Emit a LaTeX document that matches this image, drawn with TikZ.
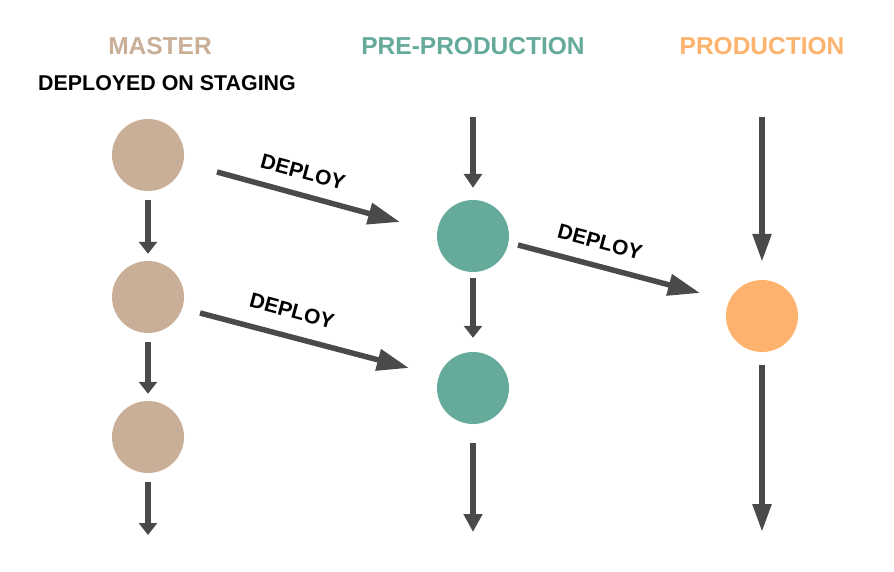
\documentclass[tikz,border=0pt]{standalone}
\usepackage{fontspec}
\setmainfont{Liberation Sans}
\usetikzlibrary{arrows.meta}
\definecolor{tan}{HTML}{C9AF97}
\definecolor{teal}{HTML}{66AA9B}
\definecolor{orng}{HTML}{FDB36D}
\definecolor{arr}{HTML}{4A4A4A}
\begin{document}
\begin{tikzpicture}[x=1pt,y=-1pt,
  dot/.style={circle,minimum size=72pt,inner sep=0pt},
  title/.style={font=\bfseries\fontsize{24.5}{28}\selectfont,inner sep=0pt},
  lbl/.style={font=\bfseries\fontsize{21}{24}\selectfont,inner sep=0pt,rotate=-15},
  flow/.style={draw=arr,line width=5.5pt,-{Triangle[length=#1,width=18pt]}},
  flow/.default=13pt,
  dflow/.style={draw=arr,line width=5.5pt,-{Triangle[length=32pt,width=21pt]}}]
\useasboundingbox[fill=white] (0,0) rectangle (894,572);
% titles
\node[title,text=tan] (tm) at (160,46) {MASTER};
\node[title,text=teal] (tp) at (473,46) {PRE-PRODUCTION};
\node[title,text=orng] (tr) at (762,46) {PRODUCTION};
\node[font=\bfseries\fontsize{21.4}{24}\selectfont,inner sep=0pt] (st) at (167,83) {DEPLOYED ON STAGING};
% circles
\node[dot,fill=tan] (m1) at (148,155) {};
\node[dot,fill=tan] (m2) at (148,297) {};
\node[dot,fill=tan] (m3) at (148,437) {};
\node[dot,fill=teal] (p1) at (473,236) {};
\node[dot,fill=teal] (p2) at (473,388) {};
\node[dot,fill=orng] (r1) at (762,316) {};
% free ends
\coordinate (pin) at (473,117);
\coordinate (rin) at (762,117);
\coordinate (mout) at (148,535);
\coordinate (pout) at (473,532);
\coordinate (rout) at (762,532);
\coordinate (d1s) at (217,172);
\coordinate (d1e) at (400,222);
\coordinate (d2s) at (200,313);
\coordinate (d2e) at (409,368);
\coordinate (d3s) at (518,245);
\coordinate (d3e) at (700,293);
% vertical arrows
\draw[flow=12pt,shorten <=9pt,shorten >=7pt] (m1) -- (m2);
\draw[flow=12pt,shorten <=9pt,shorten >=7pt] (m2) -- (m3);
\draw[flow=12pt,shorten <=9pt] (m3) -- (mout);
\draw[flow=14pt,shorten >=12pt] (pin) -- (p1);
\draw[flow=12pt,shorten <=6pt,shorten >=14pt] (p1) -- (p2);
\draw[flow=18pt,shorten <=19pt] (p2) -- (pout);
\draw[flow=28pt,shorten >=18pt] (rin) -- (r1);
\draw[flow=28pt,shorten <=13pt] (r1) -- (rout);
% diagonal arrows
\draw[dflow] (d1s) -- (d1e);
\draw[dflow] (d2s) -- (d2e);
\draw[dflow] (d3s) -- (d3e);
\node[lbl] (l1) at (303,172) {DEPLOY};
\node[lbl] (l2) at (292,311) {DEPLOY};
\node[lbl] (l3) at (600,242) {DEPLOY};
\end{tikzpicture}
\end{document}
